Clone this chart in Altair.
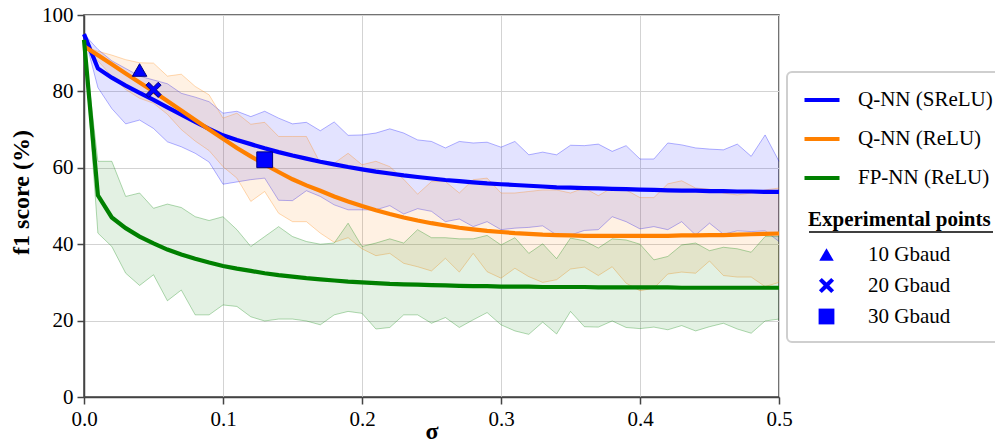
import altair as alt
import pandas as pd

sigma = [0.00, 0.01, 0.02, 0.03, 0.04, 0.05, 0.06, 0.07, 0.08, 0.09, 0.10,
         0.11, 0.12, 0.13, 0.14, 0.15, 0.16, 0.17, 0.18, 0.19, 0.20,
         0.21, 0.22, 0.23, 0.24, 0.25, 0.26, 0.27, 0.28, 0.29, 0.30,
         0.31, 0.32, 0.33, 0.34, 0.35, 0.36, 0.37, 0.38, 0.39, 0.40,
         0.41, 0.42, 0.43, 0.44, 0.45, 0.46, 0.47, 0.48, 0.49, 0.50]

srelu_mean = [95.0, 86.0, 83.6, 81.5, 79.6, 77.8, 75.8, 73.9, 72.0, 70.2, 68.5,
              67.3, 66.2, 65.1, 64.1, 63.2, 62.4, 61.6, 60.9, 60.2, 59.6,
              59.0, 58.5, 58.0, 57.6, 57.2, 56.8, 56.5, 56.2, 55.9, 55.7,
              55.5, 55.3, 55.1, 54.9, 54.8, 54.7, 54.6, 54.5, 54.4, 54.3,
              54.2, 54.1, 54.0, 54.0, 53.9, 53.9, 53.8, 53.8, 53.7, 53.7]
srelu_low = [95.0, 81.0, 75.5, 71.5, 72.5, 70.3, 66.8, 65.5, 63.8, 61.5, 55.7,
             56.3, 56.9, 57.3, 51.5, 51.4, 54.0, 52.5, 50.3, 49.0, 49.0,
             49.0, 50.1, 47.9, 49.3, 48.6, 45.9, 46.6, 44.6, 45.9, 43.8,
             44.2, 44.4, 44.8, 42.4, 42.4, 43.6, 43.8, 47.2, 45.9, 44.0,
             44.6, 43.8, 45.9, 42.4, 45.5, 42.6, 43.5, 43.3, 43.5, 40.7]
srelu_high = [95.0, 91.0, 88.0, 86.0, 84.0, 83.0, 82.0, 79.5, 78.5, 77.3, 74.3,
              74.8, 73.4, 74.8, 73.0, 71.5, 71.9, 69.7, 72.0, 68.5, 68.6,
              69.1, 70.2, 69.1, 67.3, 66.9, 65.2, 66.9, 66.5, 66.7, 65.4,
              66.9, 63.4, 64.1, 63.4, 65.9, 65.8, 66.2, 64.3, 65.8, 62.3,
              62.3, 66.5, 66.0, 65.2, 64.9, 64.7, 66.2, 63.0, 68.6, 61.7]

relu_mean = [91.8, 89.5, 87.1, 84.7, 82.3, 80.0, 77.5, 75.0, 72.5, 70.0, 67.6,
             65.2, 63.0, 60.9, 58.9, 57.0, 55.4, 54.0, 52.5, 51.2, 50.0,
             48.9, 47.9, 47.0, 46.2, 45.5, 44.9, 44.3, 43.9, 43.5, 43.2,
             42.9, 42.7, 42.5, 42.4, 42.3, 42.2, 42.2, 42.2, 42.2, 42.2,
             42.2, 42.2, 42.3, 42.3, 42.4, 42.4, 42.5, 42.6, 42.7, 42.8]
relu_low = [91.8, 88.0, 84.0, 80.5, 78.2, 76.9, 74.0, 70.0, 67.0, 64.5, 60.3,
            57.3, 51.2, 53.8, 48.1, 45.9, 45.9, 42.9, 40.5, 41.7, 38.8,
            37.0, 37.6, 35.0, 34.1, 33.0, 36.3, 32.7, 37.6, 32.8, 31.1,
            33.7, 31.5, 30.0, 30.7, 33.5, 34.0, 31.8, 34.1, 29.8, 27.8,
            28.5, 32.2, 32.7, 32.4, 35.6, 31.8, 31.4, 31.4, 28.9, 30.0]
relu_high = [91.8, 90.5, 89.5, 88.3, 87.5, 87.4, 84.0, 84.5, 81.3, 79.1, 73.0,
             74.3, 71.4, 71.9, 68.2, 68.2, 68.2, 61.2, 61.2, 63.8, 60.8,
             61.7, 60.3, 57.0, 53.1, 56.4, 56.4, 53.4, 56.9, 57.3, 53.4,
             53.4, 53.8, 54.2, 54.2, 53.4, 54.7, 52.7, 54.8, 54.2, 52.2,
             52.2, 55.8, 56.6, 54.7, 54.4, 53.4, 52.9, 53.4, 54.2, 54.7]

fp_mean = [93.5, 52.8, 47.0, 44.2, 42.0, 40.2, 38.6, 37.3, 36.2, 35.2, 34.3,
           33.6, 33.0, 32.4, 31.9, 31.5, 31.1, 30.8, 30.5, 30.2, 30.0,
           29.8, 29.6, 29.5, 29.4, 29.3, 29.2, 29.1, 29.0, 29.0, 28.9,
           28.9, 28.9, 28.8, 28.8, 28.8, 28.8, 28.7, 28.7, 28.7, 28.7,
           28.7, 28.7, 28.6, 28.6, 28.6, 28.6, 28.6, 28.6, 28.6, 28.6]
fp_low = [93.5, 42.9, 39.4, 32.4, 29.2, 32.0, 25.2, 28.0, 21.5, 21.5, 24.1,
          23.7, 21.0, 19.9, 20.4, 20.4, 19.9, 18.9, 21.5, 22.4, 21.9,
          17.8, 18.2, 21.5, 21.5, 19.3, 20.8, 18.2, 20.2, 22.1, 18.9,
          17.3, 16.4, 19.6, 16.5, 22.4, 18.4, 18.3, 19.9, 18.2, 17.9,
          18.3, 17.6, 18.7, 17.3, 18.4, 19.3, 17.8, 16.7, 19.9, 20.4]
fp_high = [93.5, 61.7, 61.7, 52.5, 53.4, 49.4, 50.5, 49.6, 47.2, 46.2, 47.2,
           43.8, 39.4, 42.0, 44.6, 42.0, 40.7, 40.0, 40.3, 45.5, 39.4,
           40.3, 41.4, 40.3, 43.8, 41.7, 41.7, 41.4, 41.4, 42.3, 39.8,
           41.7, 37.6, 40.1, 36.2, 41.6, 40.9, 39.0, 41.4, 41.1, 40.0,
           35.9, 36.8, 39.8, 40.3, 38.3, 39.2, 38.8, 37.9, 42.0, 42.0]

series_names = ["Q-NN (SReLU)", "Q-NN (ReLU)", "FP-NN (ReLU)"]
series_colors = ["#0000ff", "#ff8000", "#008000"]
series_widths = [4.2, 4.2, 3]

exp_labels = ["10 Gbaud", "20 Gbaud", "30 Gbaud"]
exp_sigma = [0.04, 0.05, 0.13]
exp_f1 = [85.6, 80.4, 62.1]

FONT = "Times New Roman, Liberation Serif, Times, serif"
X_PATH = ("M-0.62,-1L0,-0.38L0.62,-1L1,-0.62L0.38,0L1,0.62L0.62,1L0,0.38"
          "L-0.62,1L-1,0.62L-0.38,0L-1,-0.62Z")

frames = []
for name, m, lo, hi in zip(series_names,
                           [srelu_mean, relu_mean, fp_mean],
                           [srelu_low, relu_low, fp_low],
                           [srelu_high, relu_high, fp_high]):
    frames.append(pd.DataFrame({"sigma": sigma, "mean": m, "low": lo,
                                "high": hi, "series": name}))
df = pd.concat(frames, ignore_index=True)
exp_df = pd.DataFrame({"sigma": exp_sigma, "f1": exp_f1, "point": exp_labels})
box_df = pd.DataFrame({"a": [0]})
underline_df = pd.DataFrame({"u": [1]})

x_enc = alt.X("sigma:Q", scale=alt.Scale(domain=[0, 0.5], nice=False),
              axis=alt.Axis(values=[0, 0.1, 0.2, 0.3, 0.4, 0.5], format=".1f",
                            title="σ", titleY=22, titleBaseline="top",
                            labelFlush=False, labelOverlap=False))
y_axis = alt.Axis(values=[0, 20, 40, 60, 80, 100], title="f1 score (%)",
                  titleX=-51, titleY=177, labelFlush=False, labelOverlap=False)

base = alt.Chart(df)

# legend frame (transparent fill so nothing underneath is hidden)
box = alt.Chart(box_df).mark_rect(fillOpacity=0, fill="white", stroke="#cfcfcf",
                                  strokeWidth=2, cornerRadius=5).encode(
    x=alt.value(703), x2=alt.value(1000), y=alt.value(57), y2=alt.value(327))

# underline of the "Experimental points" legend header
underline = alt.Chart(underline_df).mark_rule(color="#000000", strokeWidth=1.6,
                                              opacity=1).encode(
    x=alt.value(725), x2=alt.value(909), y=alt.value(217))

layers = [underline, box]
for name, col in zip(series_names, series_colors):
    sub = base.transform_filter(alt.datum.series == name)
    layers.append(sub.mark_area(color=col, opacity=0.11).encode(
        x=x_enc,
        y=alt.Y("low:Q", scale=alt.Scale(domain=[0, 100]), axis=y_axis),
        y2="high:Q"))
    layers.append(sub.mark_line(color=col, opacity=0.3, strokeWidth=1).encode(
        x=x_enc, y="low:Q"))
    layers.append(sub.mark_line(color=col, opacity=0.3, strokeWidth=1).encode(
        x=x_enc, y="high:Q"))

lines = base.mark_line().encode(
    x=x_enc,
    y=alt.Y("mean:Q"),
    color=alt.Color("series:N", title=None,
                    scale=alt.Scale(domain=series_names, range=series_colors),
                    legend=alt.Legend(orient="none", legendX=718, legendY=65,
                                      symbolType="stroke", symbolSize=1225,
                                      symbolStrokeWidth=4, labelFont=FONT,
                                      labelFontSize=21, labelColor="black",
                                      rowPadding=9, labelOffset=16,
                                      labelLimit=300,
                                      padding=0, symbolOffset=0)),
    strokeWidth=alt.StrokeWidth("series:N", scale=alt.Scale(domain=series_names,
                                range=series_widths), legend=None),
    order=alt.Order("sigma:Q"),
)
layers.append(lines)

shape_legend = alt.Legend(orient="none", legendX=724, legendY=194,
                          title="Experimental points", titleFont=FONT,
                          titleFontSize=21, titleFontWeight="bold",
                          titleColor="black", titlePadding=14, titleLimit=400,
                          labelFont=FONT, labelFontSize=21, labelColor="black",
                          labelLimit=300,
                          rowPadding=9, labelOffset=31, symbolOffset=8,
                          padding=0, symbolFillColor="#0000ff",
                          symbolStrokeColor="#000080", symbolStrokeWidth=1)
points = alt.Chart(exp_df).mark_point(filled=True, opacity=1, strokeWidth=1).encode(
    x=x_enc,
    y=alt.Y("f1:Q"),
    shape=alt.Shape("point:N", title="Experimental points",
                    scale=alt.Scale(domain=exp_labels,
                                    range=["triangle-up", X_PATH, "square"]),
                    legend=shape_legend),
    size=alt.Size("point:N", title="Experimental points",
                  scale=alt.Scale(domain=exp_labels, range=[210, 250, 150]),
                  legend=shape_legend),
    fill=alt.value("#0000ff"),
    stroke=alt.value("#000080"),
)
layers.append(points)

chart = alt.layer(*layers).properties(
    width=695, height=382,
    autosize=alt.AutoSizeParams(type="none"),
    padding={"left": 76, "top": 7, "right": 216, "bottom": 43},
).configure(
    font=FONT
).configure_view(
    stroke="#444444", strokeWidth=1.5
).configure_axis(
    labelFont=FONT, labelFontSize=21, labelColor="black",
    titleFont=FONT, titleFontSize=24, titleFontWeight="bold", titleColor="black",
    tickColor="#444444", tickSize=7, tickWidth=1.5, labelPadding=4,
    domainColor="#444444", domainWidth=1.5,
    gridColor="#d3d3d3", gridWidth=1,
).configure_legend(
    labelFont=FONT, titleFont=FONT,
)

chart.save("out.html", embed_options={"renderer": "svg", "actions": False})
